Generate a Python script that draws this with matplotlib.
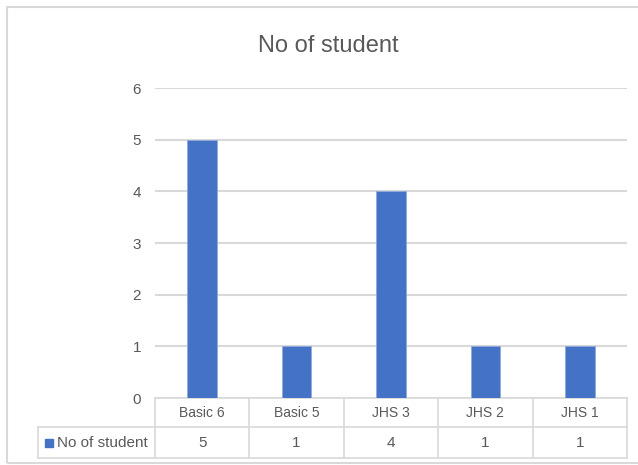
import matplotlib
matplotlib.use("Agg")
import matplotlib.pyplot as plt
from matplotlib.patches import Rectangle
from matplotlib import font_manager

categories = ["Basic 6", "Basic 5", "JHS 3", "JHS 2", "JHS 1"]
values = [5, 1, 4, 1, 1]
series_name = "No of student"
title = "No of student"
yticks = [0, 1, 2, 3, 4, 5, 6]

avail = {f.name for f in font_manager.fontManager.ttflist}
fam = [f for f in ["Liberation Sans Narrow", "Liberation Sans", "DejaVu Sans"] if f in avail]
plt.rcParams['font.family'] = fam

W, H = 638, 465
fig = plt.figure(figsize=(W / 100, H / 100), dpi=100)
fig.patch.set_facecolor("white")

# outer chart border
fig.patches.append(Rectangle((7 / W, 1 - 463 / H), (W + 5 - 7) / W, (463 - 7) / H,
                             transform=fig.transFigure, fill=False,
                             edgecolor="#d9d9d9", linewidth=1.5))

L, R, T, B = 155, 627, 88, 398
ax = fig.add_axes([L / W, 1 - B / H, (R - L) / W, (B - T) / H])

grid_c = "#d9d9d9"
text_c = "#595959"
bar_c = "#4472C4"

n = len(categories)
x = list(range(n))
ax.bar(x, values, width=0.313, color=bar_c, edgecolor="#8faadc", linewidth=0.6, zorder=3)
ax.set_xlim(-0.5, n - 0.5)
ax.set_ylim(0, 6)
ax.set_yticks(yticks)
ax.set_yticklabels([str(t) for t in yticks], color=text_c, fontsize=11)
ax.tick_params(axis="y", length=0, pad=10)
ax.set_xticks([])
ax.yaxis.grid(True, color=grid_c, linewidth=1.5, zorder=0)
for s in ax.spines.values():
    s.set_visible(False)

fig.text(328 / W, 1 - 46 / H, title, color=text_c, fontsize=17, ha="center", va="center")

# data table
pxh = B - T
pxw = R - L
def ay(py):
    return (B - py) / pxh
def axx(px):
    return (px - L) / pxw

row1_top, row1_bot, row2_bot = 398, 427, 458
left_col = 38
lw = 1.2
kw = dict(color=grid_c, linewidth=lw, transform=ax.transAxes, clip_on=False, zorder=1)
# horizontal lines
ax.plot([0, 1], [ay(row1_top)] * 2, **kw)
ax.plot([axx(left_col), 1], [ay(row1_bot)] * 2, **kw)
ax.plot([axx(left_col), 1], [ay(row2_bot)] * 2, **kw)
# vertical lines
for i in range(n + 1):
    xf = i / n
    ax.plot([xf, xf], [ay(row1_top), ay(row2_bot)], **kw)
ax.plot([axx(left_col)] * 2, [ay(row1_bot), ay(row2_bot)], **kw)

for i, (c, v) in enumerate(zip(categories, values)):
    xc = (i + 0.5) / n
    ax.text(xc, ay((row1_top + row1_bot) / 2), c, transform=ax.transAxes,
            ha="center", va="center", color=text_c, fontsize=10)
    ax.text(xc, ay((row1_bot + row2_bot) / 2), str(v), transform=ax.transAxes,
            ha="center", va="center", color=text_c, fontsize=11)

ym = (row1_bot + row2_bot) / 2
sq = 8
ax.add_patch(Rectangle((axx(45), ay(ym + sq / 2)), sq / pxw, sq / pxh,
                       transform=ax.transAxes, clip_on=False, color=bar_c))
ax.text(axx(57), ay(ym), series_name, transform=ax.transAxes,
        ha="left", va="center", color=text_c, fontsize=11)

fig.savefig("out.png", dpi=100, facecolor="white")
